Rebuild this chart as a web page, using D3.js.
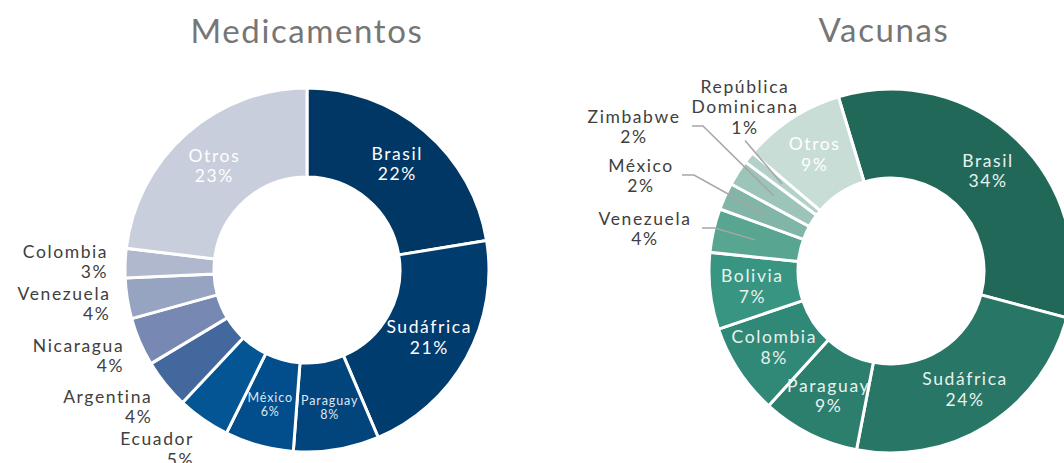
<!DOCTYPE html>
<html>
<head>
<meta charset="utf-8">
<script src="https://cdn.jsdelivr.net/npm/d3@7"></script>
<style>
  html, body { margin: 0; padding: 0; background: #ffffff; }
  svg { display: block; }
  text { font-family: Lato, "Open Sans", sans-serif; }
</style>
</head>
<body>
<svg id="chart" width="1064" height="463"></svg>
<script>
// ---------- data ----------
const medTitle = "Medicamentos";
const medCats = ["Brasil", "Sudáfrica", "Paraguay", "México", "Ecuador", "Argentina", "Nicaragua", "Venezuela", "Colombia", "Otros"];
const medVals = [22.4, 21.2, 7.6, 6.1, 4.7, 4.4, 4.3, 3.6, 2.6, 23.1];
const medPct = ["22%", "21%", "8%", "6%", "5%", "4%", "4%", "4%", "3%", "23%"];
const medColors = ["#013764", "#013c6e", "#02457d", "#024d8b", "#045593", "#43689e", "#7789b2", "#96a4c2", "#afb8cd", "#c8cedc"];

const vacTitle = "Vacunas";
const vacCats = ["Brasil", "Sudáfrica", "Paraguay", "Colombia", "Bolivia", "Venezuela", "México", "Zimbabwe", "República Dominicana", "Otros"];
const vacVals = [33.8, 23.9, 8.7, 8.1, 6.8, 3.9, 2.4, 2.3, 1.0, 9.1];
const vacPct = ["34%", "24%", "9%", "8%", "7%", "4%", "2%", "2%", "1%", "9%"];
const vacColors = ["#226858", "#287665", "#2c7e6d", "#308977", "#379581", "#58a592", "#80b5a7", "#9dc4b9", "#b2d1c8", "#c8ddd6"];

// ---------- layout ----------
const svg = d3.select("#chart");
const R = 182, r0 = 93;
const labelCol = "#404040";
const titleCol = "#767676";

function donut(cfg) {
  const g = svg.append("g").attr("transform", `translate(${cfg.cx},${cfg.cy})`);
  const data = cfg.cats.map((c, i) => ({ cat: c, val: cfg.vals[i], pct: cfg.pct[i], color: cfg.colors[i], i }));
  const pie = d3.pie().value(d => d.val).sort(null)
    .startAngle(cfg.start).endAngle(cfg.start + 2 * Math.PI);
  const arcs = pie(data);
  const arc = d3.arc().innerRadius(r0).outerRadius(R);
  g.selectAll("path.slice").data(arcs).join("path")
    .attr("class", "slice")
    .attr("d", arc)
    .attr("fill", d => d.data.color)
    .attr("stroke", "#ffffff")
    .attr("stroke-width", 3)
    .attr("stroke-linejoin", "miter");
  svg.append("text")
    .attr("x", cfg.cx + cfg.titleDx).attr("y", cfg.titleY)
    .attr("text-anchor", "middle")
    .attr("fill", titleCol)
    .attr("font-size", 33)
    .attr("letter-spacing", 1.6)
    .text(cfg.title);
  return { g, arcs, arc };
}

function twoLine(g, x, y, lines, opts) {
  const t = g.append("text")
    .attr("text-anchor", opts.anchor || "middle")
    .attr("fill", opts.fill)
    .attr("font-size", opts.size)
    .attr("letter-spacing", opts.ls);
  const n = lines.length;
  lines.forEach((ln, k) => {
    t.append("tspan")
      .attr("x", x)
      .attr("y", y + (k - (n - 1) / 2) * opts.lh)
      .attr("dy", "0.35em")
      .text(ln);
  });
  return t;
}

const bigText = { size: 17.5, ls: 1.6, lh: 20.5 };

// ---------- Medicamentos ----------
const med = donut({ cx: 307, cy: 270, cats: medCats, vals: medVals, pct: medPct, colors: medColors, start: 0, title: medTitle, titleDx: 0, titleY: 43 });
const centroidArc = d3.arc().innerRadius(r0 + 4).outerRadius(R);
const outerArc = d3.arc().innerRadius(200).outerRadius(200);
const medInside = ["Brasil", "Sudáfrica", "Otros"];
const medSmall = ["Paraguay", "México"];
med.arcs.forEach(a => {
  const c = centroidArc.centroid(a);
  if (medInside.includes(a.data.cat)) {
    twoLine(med.g, c[0], c[1], [a.data.cat, a.data.pct], Object.assign({ fill: "#ffffff" }, bigText));
  } else if (medSmall.includes(a.data.cat)) {
    twoLine(med.g, c[0], c[1], [a.data.cat, a.data.pct], { fill: "#dfe6f0", size: 12.5, ls: 0.9, lh: 14 });
  } else {
    const p = outerArc.centroid(a);
    const mid = (a.startAngle + a.endAngle) / 2;
    const yc = p[1] - Math.cos(mid) * 18;
    twoLine(med.g, p[0] + 1, yc, [a.data.cat, a.data.pct], Object.assign({ fill: labelCol, anchor: "end" }, bigText));
  }
});

// ---------- Vacunas ----------
const vacStart = -16.8 * Math.PI / 180;
const vac = donut({ cx: 891, cy: 271, cats: vacCats, vals: vacVals, pct: vacPct, colors: vacColors, start: vacStart, title: vacTitle, titleDx: -7, titleY: 42 });
const vacInside = ["Brasil", "Sudáfrica", "Paraguay", "Colombia", "Bolivia", "Otros"];
// callout label placement (offset from donut centre)
const vacCallout = {
  "Venezuela": { lx: -246, ly: -42, sx: -189, ex: -176, lines: ["Venezuela"] },
  "México": { lx: -250, ly: -95, sx: -209, ex: -197, lines: ["México"] },
  "Zimbabwe": { lx: -257, ly: -144, sx: -199, ex: -188, lines: ["Zimbabwe"] },
  "República Dominicana": { lx: -146, ly: -164, below: true, lines: ["República", "Dominicana"] }
};
vac.arcs.forEach(a => {
  const c = centroidArc.centroid(a);
  if (vacInside.includes(a.data.cat)) {
    twoLine(vac.g, c[0], c[1], [a.data.cat, a.data.pct], Object.assign({ fill: a.data.cat === "Otros" ? "#ffffff" : "#e8f2ef" }, bigText));
  } else {
    const co = vacCallout[a.data.cat];
    const lines = co.lines.concat([a.data.pct]);
    let pts;
    if (co.below) {
      pts = [[co.lx, co.ly + lines.length * 10.5 + 2], c];
    } else {
      const ly = co.ly - 1;
      pts = [[co.sx, ly], [co.ex, ly], c];
    }
    vac.g.append("path")
      .attr("d", d3.line()(pts))
      .attr("fill", "none")
      .attr("stroke", "#a6a6a6")
      .attr("stroke-width", 1.5);
    twoLine(vac.g, co.lx, co.ly, lines, Object.assign({ fill: labelCol }, bigText));
  }
});
</script>
</body>
</html>
